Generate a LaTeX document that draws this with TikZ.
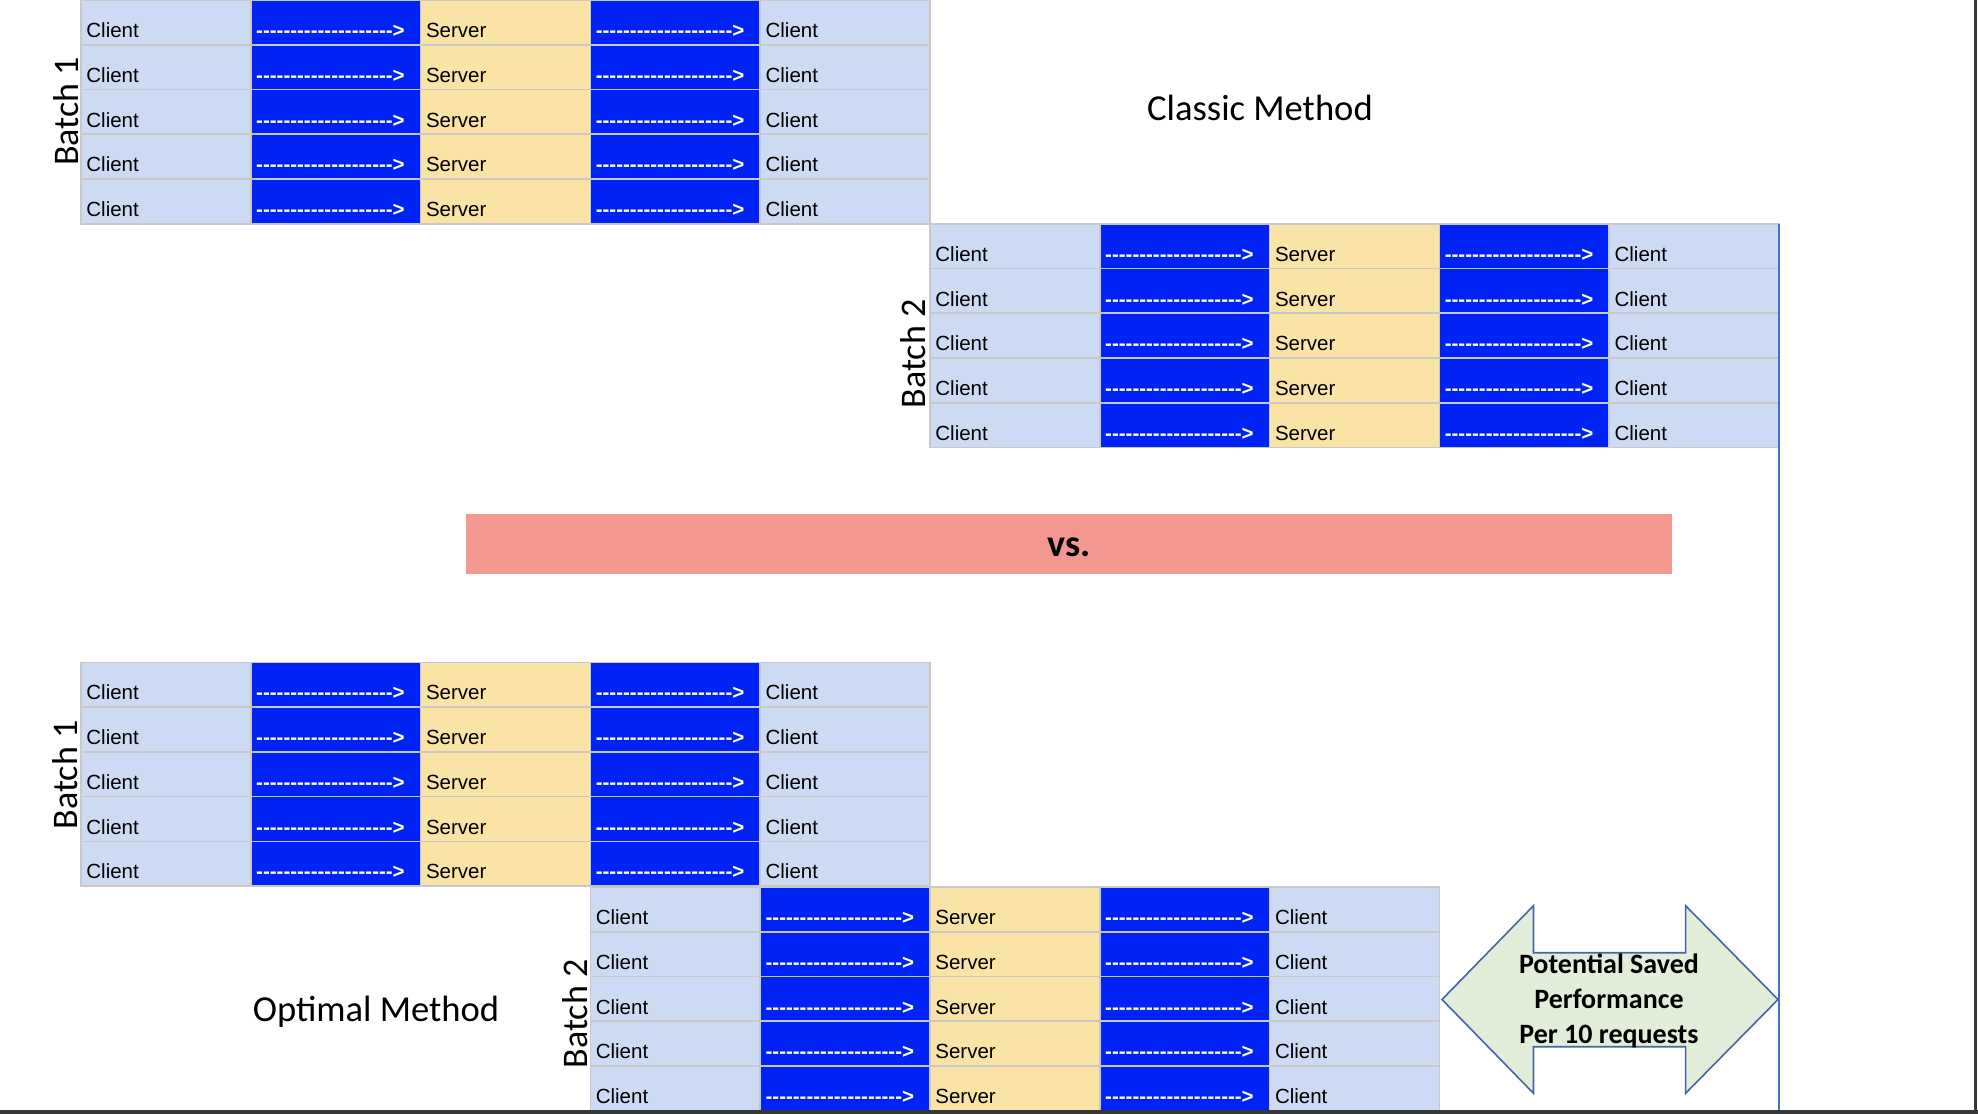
\documentclass[tikz,border=0pt]{standalone}
\usepackage{fontspec}
\setmainfont{Liberation Sans}
\newfontfamily\cellfont{Liberation Sans}[Ligatures=TeXOff]
\newfontfamily\calfont{Carlito}
\definecolor{clientc}{RGB}{205,218,243}
\definecolor{arrowc}{RGB}{0,35,245}
\definecolor{serverc}{RGB}{249,228,166}
\definecolor{gridc}{RGB}{200,200,200}
\definecolor{pinkc}{RGB}{244,151,142}
\definecolor{savefill}{RGB}{226,237,218}
\definecolor{savedraw}{RGB}{68,102,165}
\definecolor{vlinec}{RGB}{68,114,196}
\definecolor{framec}{RGB}{55,55,55}
\tikzset{
  cell/.style={draw=gridc, line width=0.8pt, minimum width=84.9pt, minimum height=22.375pt,
    inner sep=0pt, outer sep=0pt, anchor=north west},
  clientcell/.style={cell, fill=clientc},
  arrowcell/.style={cell, fill=arrowc},
  servercell/.style={cell, fill=serverc},
  celltxt/.style={anchor=base west, inner sep=0pt, font=\cellfont\fontsize{10.25pt}{12pt}\selectfont},
  clientcell text/.style={text=black},
  servercell text/.style={text=black},
  arrowcell text/.style={text=white, font=\cellfont\bfseries\fontsize{10.25pt}{12pt}\selectfont},
  batchlbl/.style={anchor=base, rotate=90, inner sep=0pt, font=\calfont\fontsize{18pt}{20pt}\selectfont},
  titlelbl/.style={anchor=base, inner sep=0pt, font=\calfont\fontsize{18.3pt}{20pt}\selectfont},
  savetxt/.style={anchor=base, inner sep=0pt, font=\calfont\bfseries\fontsize{14pt}{17pt}\selectfont},
}
\newcommand{\dashtxt}{--------------------\char`>}
\newcommand{\drawbatch}[3]{%
  \foreach \rr in {0,...,4}{
    \foreach \cc/\sty/\txt in {0/clientcell/Client,1/arrowcell/\dashtxt,2/servercell/Server,3/arrowcell/\dashtxt,4/clientcell/Client}{
      \node[\sty] (#1-\rr-\cc) at ({#2+\cc*169.8},{#3+\rr*44.75}) {};
      \node[celltxt,\sty\space text] (#1-\rr-\cc-t) at ([xshift=2.5pt,yshift=3.6pt]#1-\rr-\cc.south west) {\txt};
    }
  }
}
\begin{document}
\begin{tikzpicture}[x=0.5pt,y=-0.5pt]
\useasboundingbox (0,0) rectangle (1978,1114);
\fill[white] (0,0) rectangle (1978,1114);

% classic method
\drawbatch{cb1}{81}{0}
\drawbatch{cb2}{930}{223.75}
\node[batchlbl] (lcb1) at (78,111.5) {Batch 1};
\node[batchlbl] (lcb2) at (925,354) {Batch 2};
\node[titlelbl] (tclassic) at (1260,120) {Classic Method};

% vs bar
\node[fill=pinkc, inner sep=0pt, outer sep=0pt, minimum width=603pt, minimum height=29.75pt] (vsbar) at (1069,543.75) {};
\node[anchor=base, inner sep=0pt, font=\calfont\bfseries\fontsize{19pt}{21pt}\selectfont] (vstxt) at (1069,556) {vs.};

% optimal method
\drawbatch{ob1}{81}{662.3}
\drawbatch{ob2}{590.4}{887}
\node[batchlbl] (lob1) at (77,775) {Batch 1};
\node[batchlbl] (lob2) at (587,1014) {Batch 2};
\node[titlelbl] (toptimal) at (376,1021) {Optimal Method};

% vertical blue line
\coordinate (vtop) at (1779,224);
\coordinate (vbot) at (1779,1110);
\draw[vlinec, line width=1pt] (vtop) -- (vbot);

% double arrow
\draw[fill=savefill, draw=savedraw, line width=0.8pt, line join=miter]
  (1442,999.5) -- (1533.5,905.7) -- (1533.5,952.7) -- (1685.6,952.7) -- (1685.6,905.7)
  -- (1778,999.5) -- (1685.6,1093.3) -- (1685.6,1046.7) -- (1533.5,1046.7) -- (1533.5,1093.3) -- cycle;
\node[savetxt] (sv1) at (1609,973) {Potential Saved};
\node[savetxt] (sv2) at (1609,1008) {Performance};
\node[savetxt] (sv3) at (1609,1043) {Per 10 requests};

% window frame edges
\fill[framec] (1974,0) rectangle (1977,1114);
\fill[framec] (0,1110) rectangle (1978,1114);
\end{tikzpicture}
\end{document}
